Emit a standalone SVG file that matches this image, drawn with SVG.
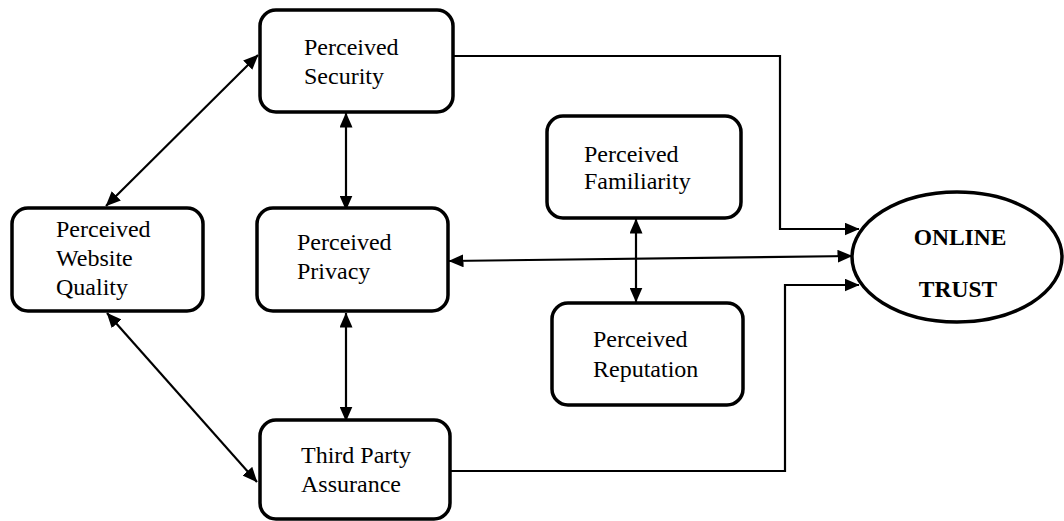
<svg xmlns="http://www.w3.org/2000/svg" width="1064" height="521" viewBox="0 0 1064 521">
  <style>
    .box { fill: #fff; stroke: #000; stroke-width: 3.5; }
    .lbl { font-family: "Liberation Serif", "Times New Roman", serif; font-size: 24px; fill: #000; }
    .bold { font-weight: bold; font-size: 23.5px; text-anchor: middle; }
    .link { fill: none; stroke: #000; stroke-width: 2.2; }
  </style>
  <defs>
    <marker id="arrow" viewBox="0 0 15 13" refX="14.5" refY="6.5" markerWidth="15" markerHeight="13" markerUnits="userSpaceOnUse" orient="auto-start-reverse">
      <path d="M0,0 L15,6.5 L0,13 Z" fill="#000"/>
    </marker>
  </defs>

  <!-- connectors -->
  <g id="connectors">
    <line class="link" x1="106" y1="206" x2="258" y2="55" marker-start="url(#arrow)" marker-end="url(#arrow)"/>
    <line class="link" x1="107" y1="313" x2="257" y2="482" marker-start="url(#arrow)" marker-end="url(#arrow)"/>
    <line class="link" x1="346" y1="113" x2="346" y2="210" marker-start="url(#arrow)" marker-end="url(#arrow)"/>
    <line class="link" x1="346" y1="313" x2="346" y2="421" marker-start="url(#arrow)" marker-end="url(#arrow)"/>
    <line class="link" x1="636" y1="219" x2="636" y2="302" marker-start="url(#arrow)" marker-end="url(#arrow)"/>
    <line class="link" x1="449" y1="261" x2="852" y2="256" marker-start="url(#arrow)" marker-end="url(#arrow)"/>
    <polyline class="link" points="453,56 780,56 780,229 859,229" marker-end="url(#arrow)"/>
    <polyline class="link" points="450,471 785,471 785,285 859,285" marker-end="url(#arrow)"/>
  </g>

  <g id="security">
    <rect class="box" x="260" y="10" width="193" height="102" rx="16"/>
    <text class="lbl" x="304" y="55">Perceived</text>
    <text class="lbl" x="304" y="84">Security</text>
  </g>

  <g id="website-quality">
    <rect class="box" x="12" y="208" width="191" height="103" rx="16"/>
    <text class="lbl" x="56" y="237">Perceived</text>
    <text class="lbl" x="56" y="266">Website</text>
    <text class="lbl" x="56" y="295">Quality</text>
  </g>

  <g id="privacy">
    <rect class="box" x="257" y="208" width="191" height="103" rx="16"/>
    <text class="lbl" x="297" y="250">Perceived</text>
    <text class="lbl" x="297" y="279">Privacy</text>
  </g>

  <g id="third-party">
    <rect class="box" x="260" y="420" width="190" height="99" rx="16"/>
    <text class="lbl" x="301" y="463">Third Party</text>
    <text class="lbl" x="301" y="492">Assurance</text>
  </g>

  <g id="familiarity">
    <rect class="box" x="547" y="116" width="194" height="102" rx="16"/>
    <text class="lbl" x="584" y="162">Perceived</text>
    <text class="lbl" x="584" y="189">Familiarity</text>
  </g>

  <g id="reputation">
    <rect class="box" x="552" y="303" width="191" height="102" rx="16"/>
    <text class="lbl" x="593" y="347">Perceived</text>
    <text class="lbl" x="593" y="377">Reputation</text>
  </g>

  <g id="online-trust">
    <ellipse class="box" cx="957" cy="257" rx="105" ry="65"/>
    <text class="lbl bold" x="960" y="245">ONLINE</text>
    <text class="lbl bold" x="958" y="297">TRUST</text>
  </g>
</svg>
